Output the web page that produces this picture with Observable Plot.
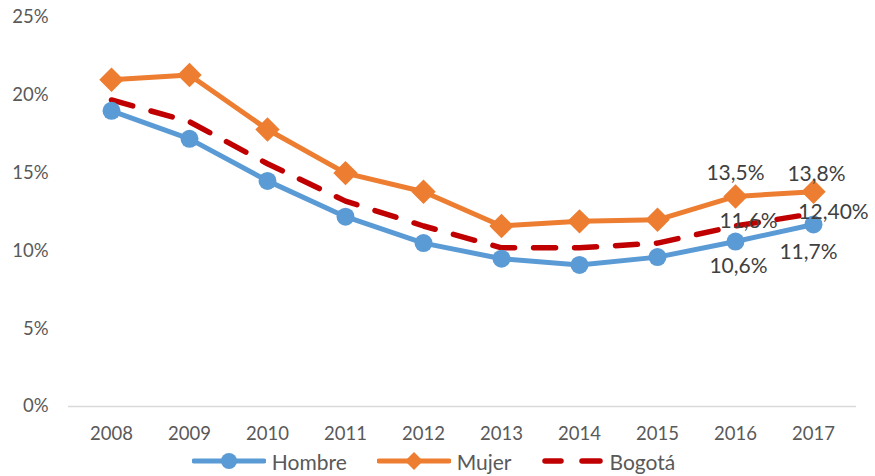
<!DOCTYPE html>
<html><head><meta charset="utf-8">
<script src="https://cdn.jsdelivr.net/npm/d3@7"></script>
<script src="https://cdn.jsdelivr.net/npm/@observablehq/plot@0.6"></script>
<style>
body{margin:0;background:#fff;font-family:Lato,"Open Sans",sans-serif;}
#legend{display:flex;justify-content:center;align-items:center;height:30px;font-size:21px;color:#595959;gap:0;padding-right:8px;}
#legend .item{display:flex;align-items:center;margin:0 15px;}
#legend svg{margin-right:6px;}
</style></head>
<body>
<div id="chart"></div>
<div id="legend"></div>
<script>
const years = ["2008","2009","2010","2011","2012","2013","2014","2015","2016","2017"];
const hombre = [19.0, 17.2, 14.5, 12.2, 10.5, 9.5, 9.1, 9.6, 10.6, 11.7];
const mujer  = [21.0, 21.3, 17.8, 15.0, 13.8, 11.6, 11.9, 12.0, 13.5, 13.8];
const bogota = [19.7, 18.3, 15.6, 13.2, 11.6, 10.2, 10.2, 10.5, 11.6, 12.4];
const yTicks = [0, 5, 10, 15, 20, 25];
const seriesNames = ["Hombre", "Mujer", "Bogotá"];
const colors = ["#5B9BD5", "#ED7D31", "#C00000"];
const labelTexts = {
  Hombre: {"2016": "10,6%", "2017": "11,7%"},
  Mujer:  {"2016": "13,5%", "2017": "13,8%"},
  "Bogotá": {"2016": "11,6%", "2017": "12,40%"}
};

const rows = (name, vals) => years.map((y, i) => ({year: y, value: vals[i], series: name}));
const H = rows("Hombre", hombre), M = rows("Mujer", mujer), B = rows("Bogotá", bogota);
const lab = (data, name, year) => data.filter(d => d.year === year).map(d => ({...d, text: labelTexts[name][year]}));

const textOpts = {x: "year", y: "value", text: "text", fill: "#404040", fontSize: 21, fontFamily: "Lato, sans-serif"};

const plot = Plot.plot({
  width: 875, height: 446,
  marginLeft: 68, marginRight: 19, marginTop: 17, marginBottom: 40,
  style: {fontFamily: "Lato, sans-serif", fontSize: "18.5px", color: "#595959", background: "#fff", overflow: "visible"},
  x: {type: "point", domain: years, padding: 0.5, label: null, tickSize: 0, tickPadding: 20},
  y: {domain: [0, 25], ticks: yTicks, tickFormat: d => d + "%", label: null, tickSize: 0, tickPadding: 20},
  marks: [
    Plot.ruleY([0], {stroke: "#d9d9d9", strokeWidth: 1.5}),
    Plot.line(M, {x: "year", y: "value", stroke: colors[1], strokeWidth: 5}),
    Plot.dot(M, {x: "year", y: "value", fill: colors[1], symbol: "diamond2", r: 11, stroke: "none"}),
    Plot.line(B, {x: "year", y: "value", stroke: colors[2], strokeWidth: 5.5, strokeDasharray: "22,19"}),
    Plot.line(H, {x: "year", y: "value", stroke: colors[0], strokeWidth: 5}),
    Plot.dot(H, {x: "year", y: "value", fill: colors[0], r: 9, stroke: "none"}),
    Plot.text(lab(M, "Mujer", "2016"), {...textOpts, dy: -23}),
    Plot.text(lab(M, "Mujer", "2017"), {...textOpts, dy: -18, dx: 3}),
    Plot.text(lab(B, "Bogotá", "2016"), {...textOpts, dy: -5, dx: 13}),
    Plot.text(lab(B, "Bogotá", "2017"), {...textOpts, dy: -1, dx: 20}),
    Plot.text(lab(H, "Hombre", "2016"), {...textOpts, dy: 25, dx: 3}),
    Plot.text(lab(H, "Hombre", "2017"), {...textOpts, dy: 28, dx: -5})
  ]
});
document.getElementById("chart").appendChild(plot);

const legend = document.getElementById("legend");
const swatches = [
  `<svg width="74" height="20"><line x1="2" x2="72" y1="10" y2="10" stroke="${colors[0]}" stroke-width="5" stroke-linecap="round"/><circle cx="37" cy="10" r="8" fill="${colors[0]}"/></svg>`,
  `<svg width="74" height="20"><line x1="2" x2="72" y1="10" y2="10" stroke="${colors[1]}" stroke-width="5" stroke-linecap="round"/><path d="M37 1 L46 10 L37 19 L28 10 Z" fill="${colors[1]}"/></svg>`,
  `<svg width="62" height="20"><line x1="3" x2="19" y1="10" y2="10" stroke="${colors[2]}" stroke-width="5.5" stroke-linecap="round"/><line x1="40" x2="58" y1="10" y2="10" stroke="${colors[2]}" stroke-width="5.5" stroke-linecap="round"/></svg>`
];
seriesNames.forEach((n, i) => {
  const d = document.createElement("div");
  d.className = "item";
  d.innerHTML = swatches[i] + `<span>${n}</span>`;
  legend.appendChild(d);
});
</script>
</body></html>
